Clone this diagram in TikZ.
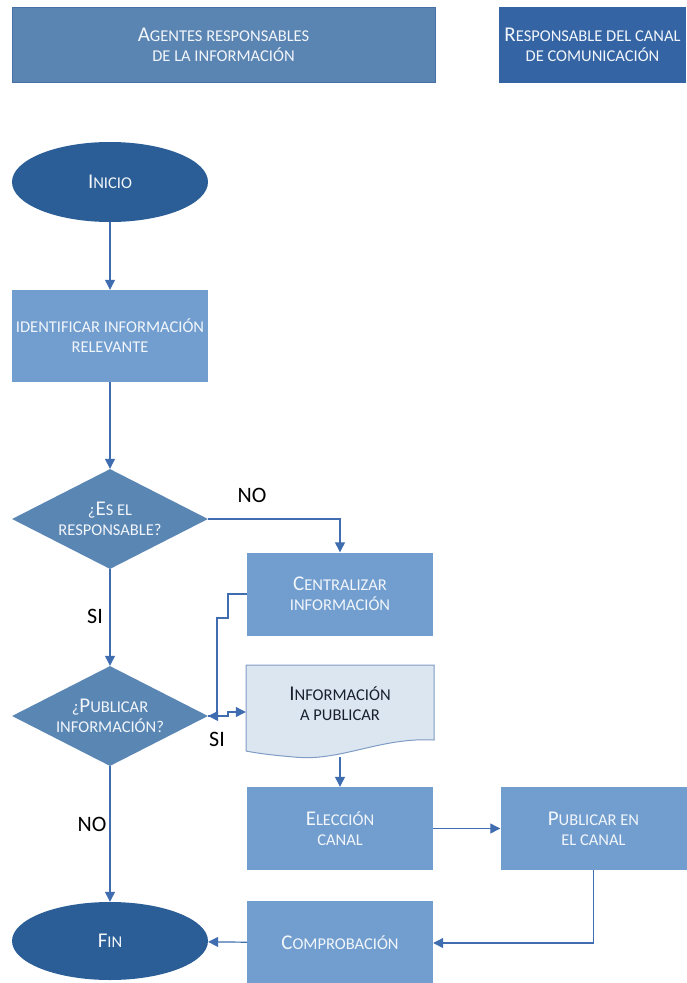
\documentclass[tikz,border=0pt]{standalone}
\usepackage{fontspec}
\setmainfont{Carlito}
\usetikzlibrary{shapes.geometric,arrows.meta}
\definecolor{hdrA}{HTML}{5A84B2}
\definecolor{hdrAline}{HTML}{4570A8}
\definecolor{hdrB}{HTML}{3464A3}
\definecolor{ellcol}{HTML}{2B5E96}
\definecolor{diacol}{HTML}{5A86B4}
\definecolor{boxcol}{HTML}{719ECF}
\definecolor{docfill}{HTML}{DCE6F1}
\definecolor{docline}{HTML}{7F9CC4}
\definecolor{linecol}{HTML}{3F6DB0}
\definecolor{txtw}{HTML}{F2F6FB}
\definecolor{txtd}{HTML}{1A1F2E}
\newcommand\SC[2]{{\fontsize{21}{20}\selectfont #1}#2}
\begin{document}
\begin{tikzpicture}[x=1pt,y=-1pt,
  basefont/.style={font=\fontsize{16.5}{20}\selectfont, align=center, text=txtw, inner sep=0pt},
  hdrbox/.style={basefont, rectangle, minimum width=#1},
  procbox/.style={basefont, rectangle, fill=boxcol, minimum width=186pt, minimum height=83pt},
  term/.style={basefont, ellipse, fill=ellcol, minimum width=196pt, minimum height=80pt},
  decision/.style={basefont, diamond, aspect=1.96, fill=diacol, minimum width=196pt, minimum height=100pt},
  lbl/.style={font=\fontsize{22}{24}\selectfont, text=black, inner sep=0pt},
  conn/.style={draw=linecol, line width=1.2pt, -{Triangle[length=10pt,width=10pt]}}
]
\useasboundingbox (0,0) rectangle (686,983);
% headers
\node[hdrbox=423pt, minimum height=75pt, fill=hdrA, draw=hdrAline, line width=1pt] (hA) at (223.5,45) {\SC{A}{GENTES RESPONSABLES}\\DE LA INFORMACIÓN};
\node[hdrbox=187pt, minimum height=76pt, fill=hdrB] (hB) at (592.5,45) {\SC{R}{ESPONSABLE DEL CANAL}\\DE COMUNICACIÓN};
% flow
\node[term] (inicio) at (110,182) {\SC{I}{NICIO}};
\node[procbox, minimum width=196pt, minimum height=92pt] (ident) at (110,336) {IDENTIFICAR INFORMACIÓN\\RELEVANTE};
\node[decision] (d1) at (110,519) {¿\SC{E}{S EL}\\RESPONSABLE?};
\node[decision] (d2) at (110,716) {¿\SC{P}{UBLICAR}\\INFORMACIÓN?};
\node[procbox] (central) at (340,594) {\SC{C}{ENTRALIZAR}\\INFORMACIÓN};
% document shape
\path[fill=docfill, draw=docline, line width=1pt]
  (246,665) -- (434,665) -- (434,740)
  .. controls (380,737) and (340,762) .. (294,757)
  .. controls (270,755) and (256,753) .. (246,751) -- cycle;
\node[basefont, text=txtd, minimum width=188pt, minimum height=86pt] (doc) at (340,708) {};
\node[basefont, text=txtd] (doctxt) at (340,704) {\SC{I}{NFORMACIÓN}\\A PUBLICAR};
\coordinate (docbot) at (340,757);
\node[procbox] (elec) at (340,828.5) {\SC{E}{LECCIÓN}\\CANAL};
\node[procbox, minimum width=186pt] (pub) at (593.5,828.5) {\SC{P}{UBLICAR EN}\\EL CANAL};
\node[procbox, minimum height=84pt] (comp) at (340,943) {\SC{C}{OMPROBACIÓN}};
\node[term, minimum height=78pt] (fin) at (110,941) {\SC{F}{IN}};
% labels
\node[lbl] (lno1) at (252,495) {NO};
\node[lbl] (lsi1) at (95,616) {SI};
\node[lbl] (lsi2) at (217,739) {SI};
\node[lbl] (lno2) at (92,824) {NO};
% connectors
\draw[conn] (inicio) -- (ident);
\draw[conn] (ident) -- (d1);
\draw[conn] (d1.east) -| (central.north);
\draw[conn] (d1) -- (d2);
\coordinate (j1) at (228,618);
\coordinate (j2) at (217,618);
\draw[conn] (central.west) -| (j1) -- (j2) |- (d2.east);
\coordinate (j3) at (228,716);
\coordinate (j4) at (228,712);
\draw[conn] (d2.east) -- (j3) -- (j4) -- (j4 -| doc.west);
\draw[conn] (docbot) -- (elec.north);
\draw[conn] (elec) -- (pub);
\draw[conn] (pub.south) |- (comp.east);
\draw[conn] (comp) -- (fin);
\draw[conn] (d2) -- (fin);
\end{tikzpicture}
\end{document}
